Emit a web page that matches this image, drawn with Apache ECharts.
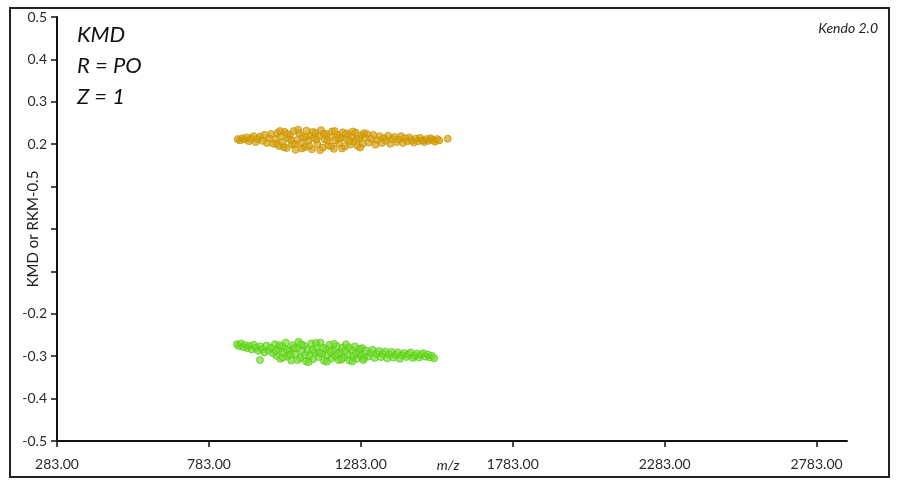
<!DOCTYPE html>
<html>
<head>
<meta charset="utf-8">
<script src="https://cdn.jsdelivr.net/npm/echarts@6/dist/echarts.min.js"></script>
<style>
html,body{margin:0;padding:0;background:#fff;}
#chart{width:897px;height:488px;}
</style>
</head>
<body>
<div id="chart"></div>
<script>
// x tick values (m/z)
var xTicks = [283, 783, 1283, 1783, 2283, 2783];
// y tick labels from -0.5 to 0.5 (labels near zero are hidden in the original)
var yTickLabels = ['-0.5', '-0.4', '-0.3', '-0.2', '', '', '', '0.2', '0.3', '0.4', '0.5'];

// Orange cluster: [m/z, KMD]
var orangeSeries = [
[878,0.212],[885,0.209],[893,0.214],[900,0.211],[908,0.216],[915,0.207],[922,0.213],[930,0.219],[937,0.205],[944,0.212],[952,0.218],[959,0.208],[966,0.222],[974,0.203],[981,0.214],[988,0.224],[995,0.201],
[1002,0.212],[1008,0.226],[1014,0.196],[1020,0.218],[1026,0.205],[1032,0.229],[1038,0.191],[1044,0.214],[1050,0.222],[1056,0.199],[1062,0.231],[1068,0.187],[1074,0.210],[1080,0.226],[1086,0.203],[1092,0.217],[1098,0.193],[1104,0.232],[1110,0.208],[1116,0.221],[1122,0.188],[1128,0.214],[1134,0.227],[1140,0.200],[1146,0.219],[1152,0.233],[1158,0.192],[1164,0.211],[1170,0.224],[1176,0.197],[1182,0.216],[1188,0.230],[1194,0.189],[1200,0.209],[1206,0.222],[1212,0.202],[1218,0.215],[1224,0.228],[1230,0.194],[1236,0.212],[1242,0.225],[1248,0.199],[1254,0.218],[1260,0.206],[1266,0.227],[1272,0.196],[1278,0.213],[1284,0.221],[1290,0.201],[1296,0.216],
[1005,0.201],[1017,0.231],[1029,0.193],[1041,0.224],[1053,0.210],[1065,0.200],[1077,0.234],[1089,0.190],[1101,0.217],[1113,0.196],[1125,0.229],[1137,0.211],[1149,0.186],[1161,0.225],[1173,0.209],[1185,0.195],[1197,0.231],[1209,0.214],[1221,0.190],[1233,0.224],[1245,0.208],[1257,0.230],[1269,0.212],[1281,0.192],[1293,0.226],
[1303,0.224],[1310,0.204],[1317,0.213],[1324,0.222],[1331,0.199],[1338,0.210],[1345,0.219],[1352,0.203],[1359,0.214],[1366,0.208],[1373,0.220],[1380,0.201],[1387,0.212],[1394,0.217],[1401,0.205],[1408,0.211],[1415,0.219],[1422,0.203],[1429,0.214],[1436,0.207],[1443,0.216],[1450,0.209],[1457,0.204],[1464,0.213],[1471,0.207],[1478,0.215],[1485,0.209],[1492,0.205],[1499,0.212],[1506,0.208],[1513,0.214],[1520,0.210],[1527,0.206],[1534,0.212],[1541,0.209],[1569,0.213]
];

// Green cluster: [m/z, RKM-0.5]
var greenSeries = [
[875,-0.272],[882,-0.276],[889,-0.270],[896,-0.279],[903,-0.274],[910,-0.281],[917,-0.276],[924,-0.284],[931,-0.273],[938,-0.280],[945,-0.287],[951,-0.309],[952,-0.277],[959,-0.284],[966,-0.291],[973,-0.275],[980,-0.286],[987,-0.280],[994,-0.293],
[1000,-0.272],[1006,-0.299],[1012,-0.283],[1018,-0.306],[1024,-0.277],[1030,-0.292],[1036,-0.268],[1042,-0.301],[1048,-0.286],[1054,-0.310],[1060,-0.274],[1066,-0.295],[1072,-0.281],[1078,-0.266],[1084,-0.304],[1090,-0.289],[1096,-0.275],[1102,-0.312],[1108,-0.284],[1114,-0.298],[1120,-0.270],[1126,-0.307],[1132,-0.290],[1138,-0.279],[1144,-0.302],[1150,-0.268],[1156,-0.294],[1162,-0.311],[1168,-0.282],[1174,-0.297],[1180,-0.273],[1186,-0.306],[1192,-0.287],[1198,-0.299],[1204,-0.276],[1210,-0.309],[1216,-0.291],[1222,-0.280],[1228,-0.303],[1234,-0.272],[1240,-0.296],[1246,-0.310],[1252,-0.285],[1258,-0.300],[1264,-0.277],[1270,-0.306],[1276,-0.290],[1282,-0.298],[1288,-0.281],[1294,-0.304],
[1003,-0.288],[1015,-0.274],[1027,-0.303],[1039,-0.285],[1051,-0.296],[1063,-0.281],[1075,-0.309],[1087,-0.272],[1099,-0.297],[1111,-0.314],[1123,-0.286],[1135,-0.269],[1147,-0.293],[1159,-0.280],[1171,-0.313],[1183,-0.289],[1195,-0.271],[1207,-0.295],[1219,-0.308],[1231,-0.288],[1243,-0.279],[1255,-0.312],[1267,-0.293],[1279,-0.283],[1291,-0.309],
[1300,-0.287],[1307,-0.301],[1314,-0.292],[1321,-0.285],[1328,-0.304],[1335,-0.294],[1342,-0.288],[1349,-0.302],[1356,-0.295],[1363,-0.289],[1370,-0.305],[1377,-0.296],[1384,-0.290],[1391,-0.303],[1398,-0.297],[1405,-0.291],[1412,-0.306],[1419,-0.298],[1426,-0.293],[1433,-0.302],[1440,-0.296],[1447,-0.291],[1454,-0.304],[1461,-0.299],[1468,-0.294],[1475,-0.303],[1482,-0.297],[1489,-0.293],[1496,-0.301],[1503,-0.296],[1510,-0.303],[1517,-0.299],[1524,-0.305]
];

var FONT = 'Lato, "Open Sans", sans-serif';
var chart = echarts.init(document.getElementById('chart'), null, {renderer: 'canvas'});
chart.setOption({
  backgroundColor: '#ffffff',
  animation: false,
  grid: {left: 57, right: 50, top: 17, bottom: 47, containLabel: false},
  xAxis: {
    type: 'value',
    min: 283,
    max: 2883,
    name: 'm/z',
    nameLocation: 'middle',
    nameGap: 17,
    nameMoveOverlap: false,
    nameTextStyle: {fontFamily: FONT, fontStyle: 'italic', fontSize: 14, color: '#222', verticalAlign: 'top', padding: [0, 8, 0, 0]},
    axisLine: {show: true, onZero: false, lineStyle: {color: '#111', width: 2}},
    axisTick: {show: true, customValues: xTicks, length: 6, inside: false, lineStyle: {color: '#111', width: 1.5}},
    axisLabel: {customValues: xTicks, margin: 16, fontFamily: FONT, fontSize: 14, color: '#2a2a2a',
      formatter: function (v) { return Number(v).toFixed(2); }},
    splitLine: {show: false}
  },
  yAxis: {
    type: 'value',
    min: -0.5,
    max: 0.5,
    interval: 0.1,
    name: 'KMD or RKM-0.5',
    nameLocation: 'middle',
    nameGap: 16,
    nameRotate: 90,
    nameMoveOverlap: false,
    nameTextStyle: {fontFamily: FONT, fontSize: 15, color: '#222'},
    axisLine: {show: true, onZero: false, lineStyle: {color: '#111', width: 2}},
    axisTick: {show: true, length: 6, lineStyle: {color: '#111', width: 1.5}},
    axisLabel: {margin: 10, fontFamily: FONT, fontSize: 14, color: '#2a2a2a',
      formatter: function (v, i) { return yTickLabels[i]; }},
    splitLine: {show: false}
  },
  series: [
    {
      type: 'scatter',
      data: orangeSeries,
      symbol: 'circle',
      symbolSize: 7,
      itemStyle: {color: 'rgba(214,160,10,0.85)', borderColor: '#C8960A', borderWidth: 1}
    },
    {
      type: 'scatter',
      data: greenSeries,
      symbol: 'circle',
      symbolSize: 7,
      itemStyle: {color: 'rgba(112,222,40,0.85)', borderColor: '#5ACB1C', borderWidth: 1}
    }
  ],
  graphic: [
    {type: 'rect', shape: {x: 10, y: 8, width: 879, height: 469}, style: {fill: null, stroke: '#222', lineWidth: 2}, silent: true},
    {type: 'text', left: 77, top: 24, style: {text: 'KMD', font: 'italic 22px ' + FONT, fill: '#111'}},
    {type: 'text', left: 77, top: 55, style: {text: 'R = PO', font: 'italic 22px ' + FONT, fill: '#111'}},
    {type: 'text', left: 77, top: 86, style: {text: 'Z = 1', font: 'italic 22px ' + FONT, fill: '#111'}},
    {type: 'text', right: 19, top: 21, style: {text: 'Kendo 2.0', font: 'italic 14px ' + FONT, fill: '#222'}}
  ]
});
</script>
</body>
</html>
